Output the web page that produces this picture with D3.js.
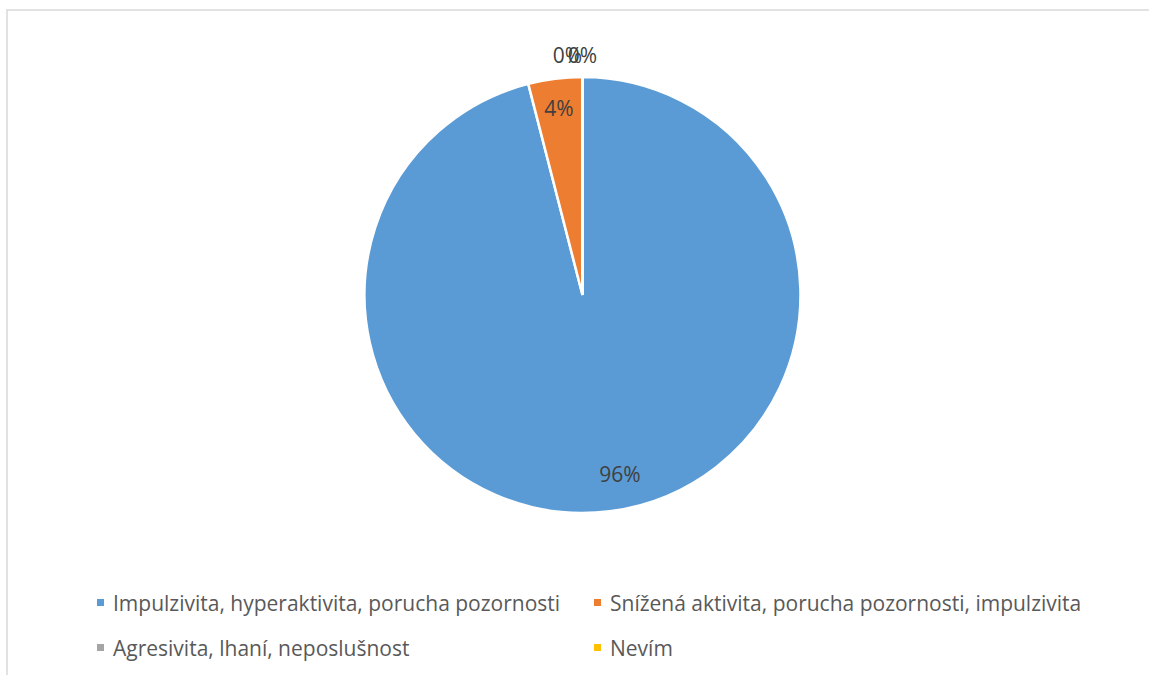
<!DOCTYPE html>
<html>
<head>
<meta charset="utf-8">
<script src="https://cdn.jsdelivr.net/npm/d3@7"></script>
<style>
  body { margin: 0; background: #fff; }
  svg { display: block; font-family: "Open Sans", "Noto Sans", sans-serif; }
</style>
</head>
<body>
<script>
// data
const categories = [
  "Impulzivita, hyperaktivita, porucha pozornosti",
  "Snížená aktivita, porucha pozornosti, impulzivita",
  "Agresivita, lhaní, neposlušnost",
  "Nevím"
];
const values = [96, 4, 0, 0];
const labels = ["96%", "4%", "0%", "0%"];
const colors = ["#5b9bd5", "#ed7d31", "#a5a5a5", "#ffc000"];

const W = 1149, H = 675;
const cx = 582.5, cy = 295, R = 218;

const svg = d3.select("body").append("svg")
  .attr("width", W).attr("height", H);

// chart frame
svg.append("rect")
  .attr("x", 7).attr("y", 10)
  .attr("width", W + 10).attr("height", H + 10)
  .attr("fill", "none")
  .attr("stroke", "#d9d9d9")
  .attr("stroke-width", 1.5);

const pie = d3.pie().sort(null).value(d => d);
const arcs = pie(values);
const arc = d3.arc().innerRadius(0).outerRadius(R);

const g = svg.append("g").attr("transform", `translate(${cx},${cy})`);

g.selectAll("path")
  .data(arcs)
  .enter()
  .append("path")
  .attr("d", arc)
  .attr("fill", (d, i) => colors[i])
  .attr("stroke", "#fff")
  .attr("stroke-width", 2.5);

// data labels: inside for non-zero, outside above for zero slices
const zeroShift = [15, 0, -15, 0];
const labelR = d => d.value === 0 ? 240 : (d.index === 0 ? 180 : 189);
g.selectAll("text.lbl")
  .data(arcs)
  .enter()
  .append("text")
  .attr("class", "lbl")
  .attr("x", (d, i) => Math.sin((d.startAngle + d.endAngle) / 2) * labelR(d) + zeroShift[i])
  .attr("y", d => -Math.cos((d.startAngle + d.endAngle) / 2) * labelR(d))
  .attr("text-anchor", "middle")
  .attr("dominant-baseline", "central")
  .attr("font-size", 21)
  .attr("fill", "#404040")
  .text((d, i) => labels[i]);

// legend
const legendPos = [[97, 603], [594, 603], [97, 648], [594, 648]];
const legend = svg.selectAll("g.leg")
  .data(categories)
  .enter()
  .append("g")
  .attr("class", "leg")
  .attr("transform", (d, i) => `translate(${legendPos[i][0]},${legendPos[i][1]})`);

legend.append("rect")
  .attr("x", 0).attr("y", -4)
  .attr("width", 7).attr("height", 7)
  .attr("fill", (d, i) => colors[i]);

legend.append("text")
  .attr("x", 16)
  .attr("y", 0)
  .attr("dominant-baseline", "central")
  .attr("font-size", 21)
  .attr("fill", "#595959")
  .text(d => d);
</script>
</body>
</html>
